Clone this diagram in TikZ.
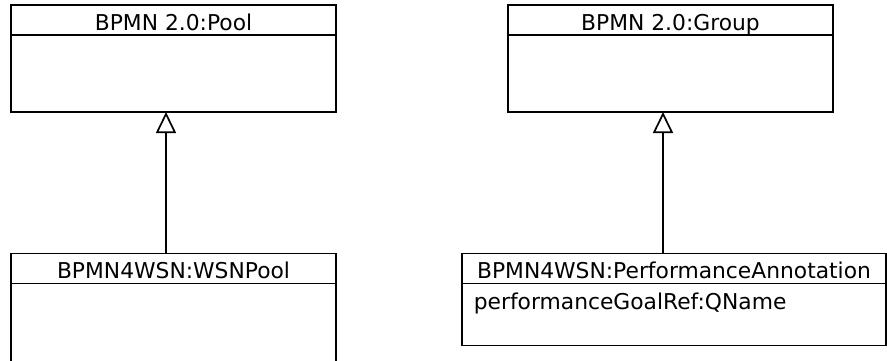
\documentclass[tikz,border=0pt]{standalone}
\usepackage{fontspec}
\setmainfont{DejaVu Sans}
\usetikzlibrary{positioning,arrows.meta}
\begin{document}
\begin{tikzpicture}[x=0.5pt,y=-0.5pt, line width=0.85pt, font=\fontsize{10.9}{13}\selectfont,
 head/.style={draw,inner sep=0pt,outer sep=0pt,minimum height=15pt,text height=12.5pt,text depth=2.5pt,anchor=north west},
 body/.style={draw,inner sep=0pt,outer sep=0pt,below=0pt of #1},
 inh/.style={-{Triangle[open,length=10.5pt,width=10pt]},fill=white}]
\useasboundingbox (0,0) rectangle (887,360);
\node[head,minimum width=162.5pt] (poolhead) at (11,5) {BPMN 2.0:Pool};
\node[body=poolhead,minimum width=162.5pt,minimum height=38.5pt] (poolbody) {};
\node[head,minimum width=162.5pt] (grphead) at (508,5) {BPMN 2.0:Group};
\node[body=grphead,minimum width=162.5pt,minimum height=38.5pt] (grpbody) {};
\node[head,minimum width=162.5pt] (wsnhead) at (11,253.5) {BPMN4WSN:WSNPool};
\node[body=wsnhead,minimum width=162.5pt,minimum height=45pt] (wsnbody) {};
\node[head,minimum width=212pt] (perfhead) at (462,253.5) {BPMN4WSN:PerformanceAnnotation};
\node[body=perfhead,minimum width=212pt,minimum height=31pt] (perfbody) {};
\node[anchor=base west,inner sep=0pt] (perfattr) at ([xshift=5.5pt,yshift=-13pt]perfbody.north west) {performanceGoalRef:QName};
% generalisation
\coordinate (pooltip) at ([xshift=-3.75pt]poolbody.south);
\coordinate (grptip) at ([xshift=-3.75pt]grpbody.south);
\draw[inh] (wsnhead.north -| pooltip) -- (pooltip);
\draw[inh] (perfhead.north -| grptip) -- (grptip);
\end{tikzpicture}
\end{document}
